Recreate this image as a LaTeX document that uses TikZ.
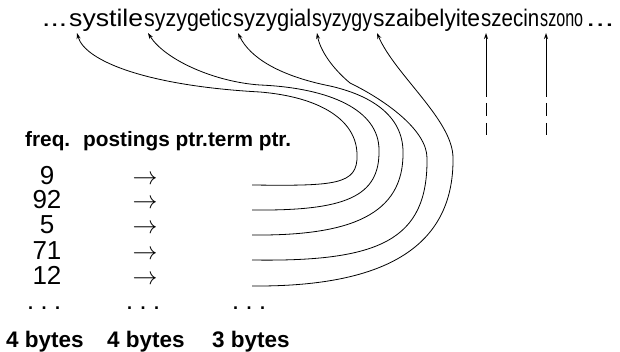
\documentclass[tikz,border=0pt]{standalone}
\usepackage{fontspec}
\usepackage{graphicx}
\setmainfont{Liberation Sans}
\usetikzlibrary{arrows.meta}
\newcommand{\fitw}[2]{\resizebox{#1}{\height}{#2}}
\tikzset{
  word/.style={anchor=base west, inner sep=0pt, font=\fontsize{24}{24}\selectfont},
  hdr/.style={anchor=base west, inner sep=0pt, font=\bfseries\fontsize{20.8}{21}\selectfont},
  num/.style={anchor=base, inner sep=0pt, font=\fontsize{26}{26}\selectfont},
  parr/.style={anchor=base, inner sep=0pt, font=\fontsize{25}{25}\selectfont},
  dotrow/.style={anchor=base west, inner sep=0pt, font=\bfseries\fontsize{18}{18}\selectfont},
  foot/.style={anchor=base west, inner sep=0pt, font=\bfseries\fontsize{22.5}{23}\selectfont},
  link/.style={line width=0.8pt, -{Stealth[length=6pt,width=4pt]}},
  vlink/.style={line width=1pt, -{Stealth[length=6pt,width=4pt]}},
  vdash/.style={line width=1pt},
}
\begin{document}
\begin{tikzpicture}[x=1pt,y=-1pt]
\useasboundingbox (0,0) rectangle (620,352);

% top string
\node[word] (d0) at (42,27) {\fitw{25pt}{...}};
\node[word] (w1) at (69,27) {\fitw{74pt}{systile}};
\node[word] (w2) at (144,27) {\fitw{88pt}{syzygetic}};
\node[word] (w3) at (233,27) {\fitw{78pt}{syzygial}};
\node[word] (w4) at (312,27) {\fitw{60pt}{syzygy}};
\node[word] (w5) at (373,27) {\fitw{107pt}{szaibelyite}};
\node[word] (w6) at (481,27) {\fitw{58pt}{szecin}};
\node[word] (w7) at (540,27) {\fitw{43pt}{szono}};
\node[word] (d1) at (586,27) {\fitw{28pt}{...}};

% header
\node[hdr] (hf) at (25,147) {freq.};
\node[hdr] (hp) at (83,147) {postings ptr.term ptr.};

% frequencies
\node[num] (n1) at (47,185) {9};
\node[num] (n2) at (47,209) {92};
\node[num] (n3) at (47,234) {5};
\node[num] (n4) at (47,259) {71};
\node[num] (n5) at (47,284) {12};

% postings pointers
\node[parr] (p1) at (145,185) {$\rightarrow$};
\node[parr] (p2) at (145,209) {$\rightarrow$};
\node[parr] (p3) at (145,234) {$\rightarrow$};
\node[parr] (p4) at (145,259) {$\rightarrow$};
\node[parr] (p5) at (145,284) {$\rightarrow$};

% dots row
\node[dotrow] (e1) at (28,309) {\hbox to 32pt{.\hfil.\hfil.}};
\node[dotrow] (e2) at (127,309) {\hbox to 32pt{.\hfil.\hfil.}};
\node[dotrow] (e3) at (233,309) {\hbox to 32pt{.\hfil.\hfil.}};

% byte sizes
\node[foot] (b1) at (6,347) {4 bytes};
\node[foot] (b2) at (107,347) {4 bytes};
\node[foot] (b3) at (212,347) {3 bytes};

% term pointer start points and targets
\coordinate (r1) at (252,185);
\coordinate (r2) at (252,210);
\coordinate (r3) at (252,235);
\coordinate (r4) at (252,260);
\coordinate (r5) at (252,286);
\coordinate (tA) at (77,33);
\coordinate (tB) at (148,33);
\coordinate (tC) at (238,33);
\coordinate (tD) at (317,33);
\coordinate (tE) at (377,33);

\draw[link] (r1) .. controls (335,186) and (358,185) .. (357,155)
  .. controls (357,120) and (320,97) .. (260,92)
  .. controls (150,86) and (85,62) .. (tA);
\draw[link] (r2) .. controls (345,211) and (380,197) .. (379,150)
  .. controls (379,110) and (330,88) .. (260,85)
  .. controls (215,82) and (165,60) .. (tB);
\draw[link] (r3) .. controls (350,236) and (404,215) .. (403,152)
  .. controls (403,115) and (370,95) .. (330,86)
  .. controls (280,76) and (250,58) .. (tC);
\draw[link] (r4) .. controls (380,262) and (428,240) .. (427,158)
  .. controls (427,130) and (385,100) .. (350,83)
  .. controls (332,68) and (320,50) .. (tD);
\draw[link] (r5) .. controls (380,287) and (454,250) .. (453,158)
  .. controls (453,120) and (395,75) .. (tE);

% vertical pointers
\coordinate (tF) at (486,33);
\coordinate (tG) at (546,33);
\coordinate (f0) at (486,97);
\coordinate (f1) at (486,103);
\coordinate (f2) at (486,116);
\coordinate (f3) at (486,123);
\coordinate (f4) at (486,135);
\coordinate (g0) at (546,97);
\coordinate (g1) at (546,103);
\coordinate (g2) at (546,116);
\coordinate (g3) at (546,123);
\coordinate (g4) at (546,135);
\draw[vlink] (f0) -- (tF);
\draw[vdash] (f1) -- (f2);
\draw[vdash] (f3) -- (f4);
\draw[vlink] (g0) -- (tG);
\draw[vdash] (g1) -- (g2);
\draw[vdash] (g3) -- (g4);
\end{tikzpicture}
\end{document}
